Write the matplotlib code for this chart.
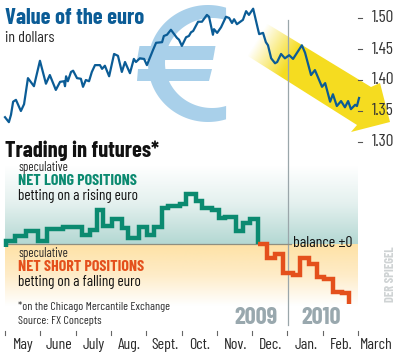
import numpy as np
from matplotlib import pyplot as plt
from matplotlib.colors import LinearSegmentedColormap, to_rgb
from matplotlib.patches import Polygon

# euro in dollars, x = months since start of May
euro_x = [0, .11, .17, .23, .31, .45, .54, .65, .82, .99, 1.16, 1.27, 1.44, 1.56, 1.67, 1.70, 1.73, 1.78, 1.87, 1.93,
          2.04, 2.15, 2.21, 2.29, 2.38, 2.46, 2.55, 2.69, 2.75, 2.83, 2.95, 3.09, 3.20, 3.31, 3.40, 3.54, 3.65, 3.71, 3.82, 3.94,
          4.02, 4.19, 4.28, 4.45, 4.50, 4.59, 4.70, 4.87, 4.93, 5.01, 5.13, 5.21, 5.27, 5.33, 5.47, 5.58, 5.72, 5.78, 5.89, 5.92,
          6.01, 6.12, 6.26, 6.35, 6.43, 6.49, 6.57, 6.74, 6.83, 6.91, 7.03, 7.17, 7.20, 7.31, 7.39, 7.45, 7.54, 7.65, 7.71, 7.82,
          7.93, 8.05, 8.16, 8.41, 8.50, 8.67, 8.78, 8.98, 9.07, 9.21, 9.29, 9.40, 9.52, 9.63, 9.72, 9.80, 9.92, 9.97, 10.03]
euro_y = [1.340, 1.332, 1.344, 1.365, 1.368, 1.350, 1.361, 1.403, 1.390, 1.431, 1.394, 1.408, 1.384, 1.397, 1.398, 1.390, 1.406, 1.398, 1.413, 1.415,
          1.403, 1.402, 1.389, 1.400, 1.398, 1.413, 1.424, 1.424, 1.418, 1.423, 1.406, 1.442, 1.439, 1.413, 1.429, 1.411, 1.434, 1.429, 1.435, 1.434,
          1.424, 1.448, 1.460, 1.461, 1.471, 1.473, 1.481, 1.468, 1.465, 1.455, 1.469, 1.471, 1.477, 1.479, 1.494, 1.494, 1.505, 1.502, 1.473, 1.482,
          1.476, 1.485, 1.502, 1.500, 1.492, 1.498, 1.490, 1.497, 1.511, 1.505, 1.515, 1.481, 1.474, 1.476, 1.461, 1.456, 1.435, 1.427, 1.429, 1.442,
          1.435, 1.440, 1.434, 1.456, 1.444, 1.408, 1.416, 1.389, 1.395, 1.365, 1.377, 1.358, 1.366, 1.356, 1.366, 1.353, 1.360, 1.358, 1.371]

# net futures position, arbitrary units (the chart has no scale)
long_x = [.04, .04, .28, .59, .93, 1.19, 1.64, 2.18, 2.41, 2.61, 2.78, 3.03, 3.31, 3.48, 3.80, 4.02, 4.22, 4.45, 4.62, 4.96, 5.13, 5.41, 5.58, 5.86, 6.06, 6.23, 6.54, 6.74, 6.94, 7.17]
long_y = [-3, 3, 8, 12.7, 2.7, 15.3, 17, 9.3, 14.3, 33.7, 17.7, 25.3, 16, 6, 17.3, 9, 17.3, 36.3, 38, 40, 49.7, 43.3, 36.3, 34, 25.7, 26.7, 13.3, 20.7, 25, 0]
short_x = [7.17, 7.42, 7.65, 7.88, 8.16, 8.36, 8.61, 8.84, 9.04, 9.29, 9.55, 9.75]
short_y = [0, -14.3, -10, -28.7, -31, -14.3, -20, -33.3, -35, -47.7, -49.3, -60]

months = ['May', 'June', 'July', 'Aug.', 'Sept.', 'Oct.', 'Nov.', 'Dec.', 'Jan.', 'Feb.', 'March']
euro_ticks = [1.30, 1.35, 1.40, 1.45, 1.50]

BLUE = '#0b5c96'
GREEN = '#0b8a70'
ORANGE = '#e4501c'
YELLOW = '#f5dc20'
LIGHT_BLUE = '#a9d0ea'
GREY = '#99a8ae'
DARK = '#2b2b2b'

plt.rcParams['font.family'] = ['Barlow Condensed', 'Liberation Sans', 'DejaVu Sans']

fig = plt.figure(figsize=(4, 3.56), dpi=100)
X0, MONTH = 5, 35.3
xlim = (-X0 / MONTH, (400 - X0) / MONTH)

# pixel layer for the drawing and the words
ax = fig.add_axes([0, 0, 1, 1], zorder=1)
ax.axis('off')

# lower panel, balance at 244 px
ax2 = fig.add_axes([0, 0, 1, 1], zorder=2)
ax2.set_xlim(xlim)
ax2.set_ylim(244 - 356, 244)
ax2.axis('off')

# upper panel, 1.50 at 18 px and 31 px per 0.05
ax1 = fig.add_axes([0, 0, 1, 1], zorder=3)
ax1.set_xlim(xlim)
ax1.set_ylim(1.5 - 338 * .05 / 31, 1.5 + 18 * .05 / 31)
ax1.axis('off')

# gradients behind the futures
cm_g = LinearSegmentedColormap.from_list('g', ['#ffffff', '#e3f0ee', '#b4d8d3'])
cm_o = LinearSegmentedColormap.from_list('o', ['#fee2a6', '#feecc8', '#ffffff'])
grad = np.linspace(0, 1, 64).reshape(-1, 1)
ax.imshow(grad, extent=(5, 358, 244, 165), cmap=cm_g, aspect='auto', zorder=1)
ax.imshow(grad, extent=(5, 358, 306, 244), cmap=cm_o, aspect='auto', zorder=1)

# euro sign
th = np.radians(np.linspace(72.5, 287.5, 120))
ox, oy = 208 + 60 * np.cos(th), 63.5 - 58.5 * np.sin(th)
ix, iy = 212 + 47 * np.cos(th[::-1]), 63 - 45 * np.sin(th[::-1])
ax.fill(np.r_[ox, ix], np.r_[oy, iy], color=LIGHT_BLUE, lw=0, zorder=2)
ax.fill([139.5, 215.5, 213, 137], [46, 46, 60, 60], color=LIGHT_BLUE, lw=0, zorder=2)
ax.fill([138, 212, 209, 137], [69, 69, 81, 81], color=LIGHT_BLUE, lw=0, zorder=2)

# yellow arrow, fading out towards the start
arrow = Polygon([(238, 6), (371, 87), (380, 83), (390, 122), (351, 132), (357, 125), (232, 46)],
                transform=ax.transData, fc='none', ec='none')
ax.add_patch(arrow)
gx, gy = np.meshgrid(np.linspace(225, 395, 340), np.linspace(0, 140, 280))
t = np.clip((((gx - 258) * .85 + (gy - 38) * .52)) / 40, 0, 1)
rgba = np.zeros(gx.shape + (4,))
rgba[..., :3] = to_rgb(YELLOW)
rgba[..., 3] = t
im = ax.imshow(rgba, extent=(225, 395, 140, 0), aspect='auto', zorder=3)
im.set_clip_path(arrow)
ax.set_xlim(0, 400)
ax.set_ylim(356, 0)

# rules
ax.plot([287.5, 287.5], [20, 325], color='#9aa6aa', lw=0.9, zorder=4)
ax.plot([5, 291], [244, 244], color='#8f8f80', lw=0.9, zorder=4)

# data
ax1.plot(euro_x, euro_y, color=BLUE, lw=1.6, solid_joinstyle='round')
ax2.step(long_x, long_y, where='post', color=GREEN, lw=3.2, solid_joinstyle='miter', solid_capstyle='butt')
ax2.step(short_x, short_y, where='post', color=ORANGE, lw=3.2, solid_joinstyle='miter', solid_capstyle='butt')

# right hand scale
for v in euro_ticks:
    ax1.plot([10.0, 10.12], [v, v], color='#555555', lw=0.8)
    ax1.text(10.38, v, f'{v:.2f}', color='#333333', fontsize=12.5, va='center', ha='left')

# month axis
for i, m in enumerate(months):
    ax2.plot([i, i], [-87, -90.5], color='#666666', lw=0.8)
    ax2.text(i + .52, -101, m, color=DARK, fontsize=11.5, ha='center', va='center')

ax.text(5, 18, 'Value of the euro', color=BLUE, fontsize=16.2, fontweight='bold', va='center', zorder=6)
ax.text(5, 38, 'in dollars', color=DARK, fontsize=11.5, va='center', zorder=6)
ax.text(5, 151, 'Trading in futures*', color='#111111', fontsize=16.2, fontweight='bold', va='center', zorder=6)
ax.text(18, 168, 'speculative', color=DARK, fontsize=9.2, va='center', zorder=6)
ax.text(18, 181, 'NET LONG POSITIONS', color=GREEN, fontsize=11.5, fontweight='bold', va='center', zorder=6)
ax.text(18, 196, 'betting on a rising euro', color='#111111', fontsize=11, va='center', zorder=6)
ax.text(18, 254, 'speculative', color=DARK, fontsize=9.2, va='center', zorder=6)
ax.text(18, 267, 'NET SHORT POSITIONS', color=ORANGE, fontsize=11.5, fontweight='bold', va='center', zorder=6)
ax.text(18, 282, 'betting on a falling euro', color='#111111', fontsize=11, va='center', zorder=6)
ax.text(18, 307, '*on the Chicago Mercantile Exchange', color=DARK, fontsize=8.6, va='center', zorder=6)
ax.text(18, 321, 'Source: FX Concepts', color=DARK, fontsize=8.6, va='center', zorder=6)
ax.text(293, 243, 'balance ±0', color='#111111', fontsize=11.5, va='center', zorder=6)
ax.text(234, 318, '2009', color=GREY, fontsize=17.5, fontweight='bold', va='center', zorder=6)
ax.text(301, 318, '2010', color=GREY, fontsize=17.5, fontweight='bold', va='center', zorder=6)
ax.text(391, 274, 'DER SPIEGEL', color='#cfd3d4', fontsize=9, fontweight='bold', rotation=90,
        ha='center', va='center', zorder=6)

fig.savefig('out.png', dpi=100)
